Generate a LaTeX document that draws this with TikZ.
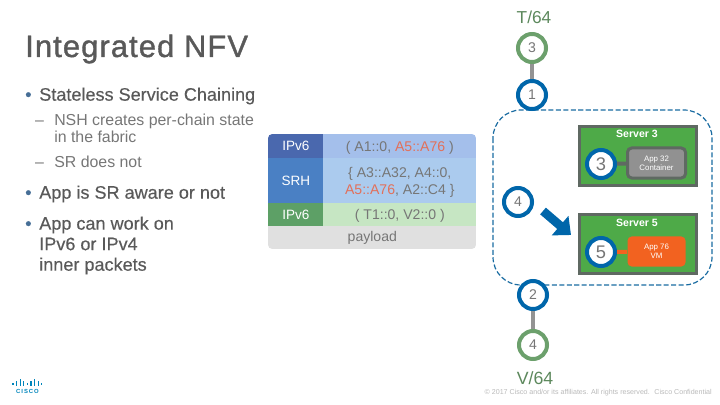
\documentclass[tikz,border=0pt]{standalone}
\usepackage{fontspec}
\setmainfont{Liberation Sans}
\newfontfamily\titlefont[FakeBold=1.2,LetterSpace=3.5]{Liberation Sans}
\newfontfamily\bulletfont[FakeBold=0.35]{Liberation Sans}
\usepackage{xcolor}
\usetikzlibrary{arrows.meta,positioning}
\definecolor{titlegray}{RGB}{89,89,89}
\definecolor{subgray}{RGB}{118,118,118}
\definecolor{bulletblue}{RGB}{70,110,150}
\definecolor{ringblue}{RGB}{0,102,170}
\definecolor{ringgreen}{RGB}{108,160,108}
\definecolor{servergreen}{RGB}{78,170,72}
\definecolor{serveredge}{RGB}{95,105,98}
\definecolor{appgray}{RGB}{145,145,145}
\definecolor{apporange}{RGB}{242,98,32}
\definecolor{hdrblue}{RGB}{74,104,174}
\definecolor{cellblue}{RGB}{164,191,235}
\definecolor{srhblue}{RGB}{74,128,196}
\definecolor{srhcell}{RGB}{171,203,238}
\definecolor{hdrgreen}{RGB}{93,160,102}
\definecolor{cellgreen}{RGB}{198,230,195}
\definecolor{cellgray}{RGB}{224,224,224}
\definecolor{addrred}{RGB}{226,112,90}
\newcommand{\topbullet}{\llap{\textcolor{bulletblue}{\textbullet}\hspace{5.5pt}}}
\newcommand{\subdash}{\llap{–\hspace{7.4pt}}}
\newcommand{\redaddr}[1]{\textcolor{addrred}{#1}}

\begin{document}
\begin{tikzpicture}[x=0.025cm,y=-0.025cm,
    toptext/.style={anchor=west, inner sep=0, align=left, text=titlegray,
                    font=\bulletfont\fontsize{12.85}{14.6}\selectfont},
    subtext/.style={anchor=west, inner sep=0, align=left, text=subgray,
                    font=\fontsize{11.3}{12}\selectfont},
    ring/.style={circle, draw=ringblue, fill=white, line width=0.1cm, minimum size=0.7cm,
                 inner sep=0, text=subgray, font=\fontsize{10}{10}\selectfont},
    endring/.style={ring, draw=ringgreen},
    hostring/.style={ring, font=\fontsize{13}{13}\selectfont},
    server/.style={rectangle, draw=serveredge, fill=servergreen, line width=0.075cm,
                   minimum width=2.925cm, minimum height=1.475cm},
    servertitle/.style={inner sep=0, text=white, font=\bfseries\fontsize{7.5}{7.5}\selectfont},
    appbox/.style={rectangle, rounded corners=3pt, minimum width=1.45cm, minimum height=0.75cm,
                   inner sep=0, align=center, text=white, font=\fontsize{5.6}{6.4}\selectfont},
    hdrcell/.style={rectangle, anchor=north west, inner sep=0, minimum width=1.375cm, text depth=0pt,
                    text=white, font=\fontsize{9.6}{12}\selectfont},
    addrcell/.style={rectangle, anchor=north west, inner sep=0, minimum width=3.825cm, align=center,
                     text depth=0pt, text=subgray, font=\fontsize{10}{12.6}\selectfont},
]
\useasboundingbox (0,0) rectangle (720,405);

% left column
\node[inner sep=0, anchor=west, text=titlegray, font=\titlefont\fontsize{22}{24}\selectfont] (title) at (25,49) {Integrated NFV};
\node[toptext] (stateless) at (39,96) {\topbullet Stateless Service Chaining};
\node[subtext] (nsh) at (54,128.5) {\subdash NSH creates per-chain state\\in the fabric};
\node[subtext] (srnot) at (54,162) {\subdash SR does not};
\node[toptext] (aware) at (39,194) {\topbullet App is SR aware or not};
\node[toptext] (inner) at (39,245.5) {\topbullet App can work on\\IPv6 or IPv4\\inner packets};

% packet header table
\begin{scope}
\clip[rounded corners=3pt] (268,134) rectangle (476,249);
\node[hdrcell, fill=hdrblue, minimum height=0.6cm] (hdrouter) at (268,134) {IPv6};
\node[addrcell, fill=cellblue, minimum height=0.6cm] (addrouter) at (323,134) {( A1::0, \redaddr{A5::A76} )};
\node[hdrcell, fill=srhblue, minimum height=1.125cm] (hdrsrh) at (268,158) {SRH};
\node[addrcell, fill=srhcell, minimum height=1.125cm] (addrsrh) at (323,158) {\{ A3::A32, A4::0,\\\redaddr{A5::A76}, A2::C4 \}};
\node[hdrcell, fill=hdrgreen, minimum height=0.575cm] (hdrinner) at (268,203) {IPv6};
\node[addrcell, fill=cellgreen, minimum height=0.575cm] (addrinner) at (323,203) {( T1::0, V2::0 )};
\node[rectangle, anchor=north west, inner sep=0, minimum width=5.2cm, minimum height=0.575cm,
      fill=cellgray, text=subgray, font=\fontsize{10}{12}\selectfont] (payload) at (268,226) {payload};
\end{scope}

% fabric
\draw[ringblue!80!gray, line width=0.03cm, dash pattern=on 3.6pt off 1.7pt, rounded corners=0.7cm]
    (493,110) rectangle (712,285);

% server 3
\node[server] (srvthree) at (638,156) {};
\node[servertitle] (srvthreename) at (637,134) {Server 3};
\node[hostring] (hostthree) at (601,164) {3};
\node[appbox, fill=appgray, draw=serveredge, line width=0.075cm] (appthree) at (656.5,163) {App 32\\Container};
\draw[serveredge, line width=0.1cm] (hostthree) -- (appthree);

% server 5
\node[server] (srvfive) at (638,244) {};
\node[servertitle] (srvfivename) at (637,223) {Server 5};
\node[hostring] (hostfive) at (601,252) {5};
\node[appbox, fill=apporange] (appfive) at (656.5,251.5) {App 76\\VM};
\draw[apporange, line width=0.1cm] (hostfive) -- (appfive);

% path of the packet
\node[endring] (srcsid) at (532,48) {3};
\node[ring] (ingress) at (532,95) {1};
\node[ring] (hopfour) at (518,202) {4};
\node[ring] (egress) at (533,295) {2};
\node[endring] (dstsid) at (533,345) {4};
\node[inner sep=0, text=ringgreen!85!black, font=\fontsize{12.3}{12}\selectfont, above=0.2cm of srcsid, xshift=0.05cm] (srclabel) {T/64};
\node[inner sep=0, text=ringgreen!85!black, font=\fontsize{12.6}{12}\selectfont, below=0.27cm of dstsid, xshift=0.05cm] (dstlabel) {V/64};
\draw[gray!85, line width=0.1cm] (srcsid) -- (ingress);
\draw[gray!85, line width=0.1cm] (egress) -- (dstsid);

\coordinate (hoptail) at (543,211);
\coordinate (hoptip) at (571,235);
\draw[ringblue, line width=0.22cm, -{Triangle[length=0.36cm,width=0.62cm]}] (hoptail) -- (hoptip);

% logo and footer
\foreach \barx/\barh in {0/2,3.6/4,7.2/6,10.8/4,14.4/2,18/4,21.6/6,25.2/4,28.8/2}
    \draw[ringblue!80!cyan, line width=0.03cm] (13+\barx,385-\barh) -- (13+\barx,385+\barh*0.2);
\node[inner sep=0, text=ringblue!80!cyan, font=\bfseries\fontsize{4.2}{5}\selectfont] (logotext) at (27.5,391) {C\,I\,S\,C\,O};
\node[inner sep=0, anchor=east, text=gray!55, font=\fontsize{5.05}{5}\selectfont] (footer) at (712,393) {© 2017 Cisco and/or its affiliates. All rights reserved. \ Cisco Confidential};

\end{tikzpicture}
\end{document}
